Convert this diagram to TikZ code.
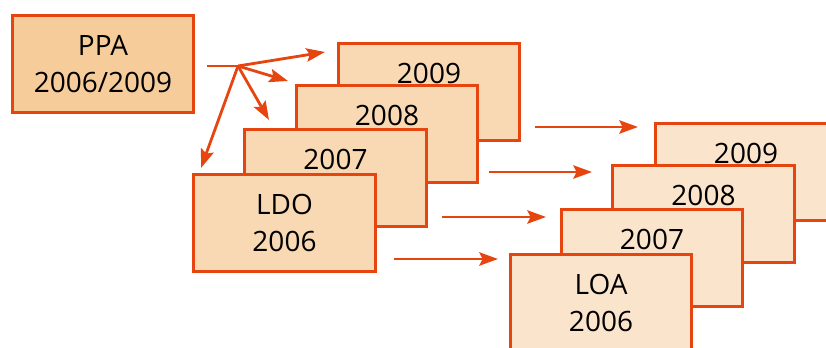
\documentclass[tikz,border=0pt]{standalone}
\usepackage{fontspec}
\setmainfont{Open Sans}
\usetikzlibrary{arrows.meta}
\definecolor{rojizo}{HTML}{E6450F}
\definecolor{durazno}{HTML}{F6CC9A}
\definecolor{duraznomedio}{HTML}{F8D9B3}
\definecolor{duraznoclaro}{HTML}{FBE4CC}

\begin{document}
\begin{tikzpicture}[
        x=0.75pt, y=-0.75pt,
        hoja/.style={rectangle, draw=rojizo, fill=duraznomedio, line width=2.2pt, align=center, minimum width=136pt, minimum height=73pt, inner sep=0pt, font=\fontsize{21}{27.75}\selectfont},
        hojaclara/.style={hoja, fill=duraznoclaro},
        flechita/.style={-{Stealth[length=14pt, width=10pt, inset=2.5pt]}, draw=rojizo, line width=2.1pt}
    ]
        \clip (0,0) rectangle (826,348);
        \useasboundingbox (0,0) rectangle (826,348);

        \node[hoja, fill=durazno] (ppa) at (103,64) {PPA\\2006/2009};

        % pila LDO
        \node[hoja] (ldo09) at (429,92) {2009\\\phantom{2006}};
        \node[hoja] (ldo08) at (387,134) {2008\\\phantom{2006}};
        \node[hoja] (ldo07) at (335.5,178) {2007\\\phantom{2006}};
        \node[hoja] (ldo06) at (284.5,223) {LDO\\2006};

        % pila LOA
        \node[hojaclara] (loa09) at (746,172) {2009\\\phantom{2006}};
        \node[hojaclara] (loa08) at (703.5,214) {2008\\\phantom{2006}};
        \node[hojaclara] (loa07) at (652,258) {2007\\\phantom{2006}};
        \node[hojaclara] (loa06) at (601,303) {LOA\\2006};

        \coordinate (inicio) at (207,66);
        \coordinate (abanico) at (238,66);
        \coordinate (p09) at (325,52);
        \coordinate (p08) at (288,81);
        \coordinate (p07) at (269,120);
        \coordinate (p06) at (201,168);

        \draw[rojizo, line width=2.1pt] (inicio) -- (abanico);
        \draw[flechita] (abanico) -- (p09);
        \draw[flechita] (abanico) -- (p08);
        \draw[flechita] (abanico) -- (p07);
        \draw[flechita] (abanico) -- (p06);

        \coordinate (a09) at (535,127);
        \coordinate (b09) at (638,127);
        \coordinate (a08) at (489,172);
        \coordinate (b08) at (592,172);
        \coordinate (a07) at (442,217);
        \coordinate (b07) at (546,217);
        \coordinate (a06) at (394,259);
        \coordinate (b06) at (498,259);

        \draw[flechita] (a09) -- (b09);
        \draw[flechita] (a08) -- (b08);
        \draw[flechita] (a07) -- (b07);
        \draw[flechita] (a06) -- (b06);
    \end{tikzpicture}
\end{document}
